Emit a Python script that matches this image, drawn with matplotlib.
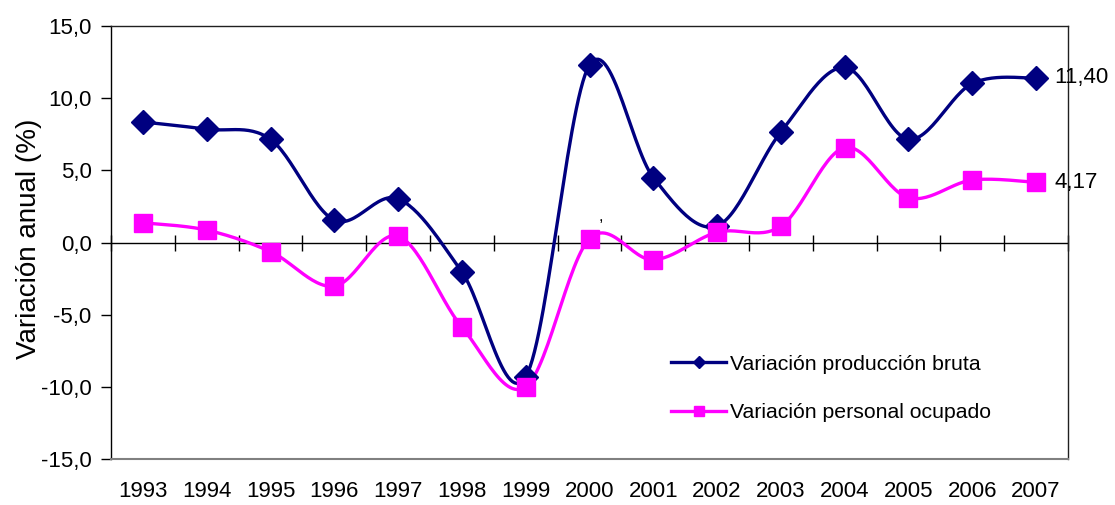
import numpy as np
import matplotlib
matplotlib.use("Agg")
import matplotlib.pyplot as plt
from matplotlib.ticker import FuncFormatter

plt.rcParams['font.family'] = ['Liberation Sans', 'DejaVu Sans']

years = ['1993', '1994', '1995', '1996', '1997', '1998', '1999', '2000',
         '2001', '2002', '2003', '2004', '2005', '2006', '2007']
prod_bruta = [8.35, 7.85, 7.15, 1.55, 3.03, -2.04, -9.3, 12.3,
              4.5, 1.15, 7.66, 12.13, 7.15, 11.02, 11.40]
personal = [1.37, 0.86, -0.63, -3.03, 0.44, -5.86, -10.0, 0.26,
            -1.2, 0.71, 1.13, 6.58, 3.1, 4.33, 4.17]
label_prod = 'Variación producción bruta'
label_pers = 'Variación personal ocupado'
end_labels = ['11,40', '4,17']

BLUE = '#000080'
PINK = '#FF00FF'


def smooth(x, y, n=30):
    """Excel-like smoothed line (Catmull-Rom Bezier)."""
    x = np.asarray(x, float)
    y = np.asarray(y, float)
    P = np.column_stack([x, y])
    out = []
    for i in range(len(P) - 1):
        p0 = P[i - 1] if i > 0 else P[i]
        p1 = P[i]
        p2 = P[i + 1]
        p3 = P[i + 2] if i + 2 < len(P) else P[i + 1]
        c1 = p1 + (p2 - p0) / 6.0
        c2 = p2 - (p3 - p1) / 6.0
        t = np.linspace(0, 1, n)[:, None]
        seg = ((1 - t) ** 3) * p1 + 3 * ((1 - t) ** 2) * t * c1 + 3 * (1 - t) * t ** 2 * c2 + t ** 3 * p2
        out.append(seg if i == 0 else seg[1:])
    S = np.vstack(out)
    return S[:, 0], S[:, 1]


fig = plt.figure(figsize=(11.15, 5.05), dpi=100)
ax = fig.add_axes([111 / 1115, 1 - 459 / 505, (1068 - 111) / 1115, (459 - 26) / 505])

xpos = np.arange(len(years))

# zero axis with category boundary ticks
ax.axhline(0, color='black', lw=1, zorder=2)
bounds = np.arange(len(years) + 1) - 0.5
ax.plot(bounds, np.zeros_like(bounds), linestyle='none', marker='|', ms=11,
        mew=1, color='black', zorder=2, clip_on=False)

for vals, col, mk, ms, lab in [(prod_bruta, BLUE, 'D', 12, label_prod),
                               (personal, PINK, 's', 13.5, label_pers)]:
    sx, sy = smooth(xpos, vals)
    ax.plot(sx, sy, color=col, lw=2.4, zorder=3)
    ax.plot(xpos, vals, linestyle='none', marker=mk, ms=ms, color=col, zorder=4)
    ax.plot([], [], color=col, lw=2.4, marker=mk, ms=ms * 0.55, label=lab)

ax.set_xlim(-0.5, len(years) - 0.5)
ax.set_ylim(-15, 15)
ax.set_yticks(np.arange(-15, 16, 5))
ax.yaxis.set_major_formatter(FuncFormatter(lambda v, p: f'{v:.1f}'.replace('.', ',')))
ax.set_xticks(xpos)
ax.set_xticklabels(years)
ax.tick_params(axis='x', length=0, pad=16, labelsize=16)
ax.tick_params(axis='y', direction='out', length=7, width=1, labelsize=16, pad=7)
ax.set_ylabel('Variación anual (%)', fontsize=20)
ax.yaxis.set_label_coords(-0.072, 0.509)

for s in ['top', 'right']:
    ax.spines[s].set_color('#202020')
    ax.spines[s].set_linewidth(1)
ax.spines['bottom'].set_color('#808080')
ax.spines['bottom'].set_linewidth(1.5)
ax.spines['left'].set_color('black')
ax.spines['left'].set_linewidth(1)

# end labels
ax.annotate(end_labels[0], (xpos[-1], prod_bruta[-1]), xytext=(13, 0), textcoords='offset points',
            va='center', ha='left', fontsize=16, annotation_clip=False)
ax.annotate(end_labels[1], (xpos[-1], personal[-1]), xytext=(13, 0), textcoords='offset points',
            va='center', ha='left', fontsize=16, annotation_clip=False)

# stray comma near 2000
ax.text(7.18, 1.8, ',', fontsize=12, ha='center', va='center')

leg = fig.legend(loc='center left', bbox_to_anchor=(671 / 1115, 1 - 388.5 / 505),
                 frameon=False, fontsize=15.3, handlelength=2.6, handletextpad=0.2,
                 labelspacing=1.4, borderpad=0, borderaxespad=0)

fig.savefig('out.png', dpi=100)
